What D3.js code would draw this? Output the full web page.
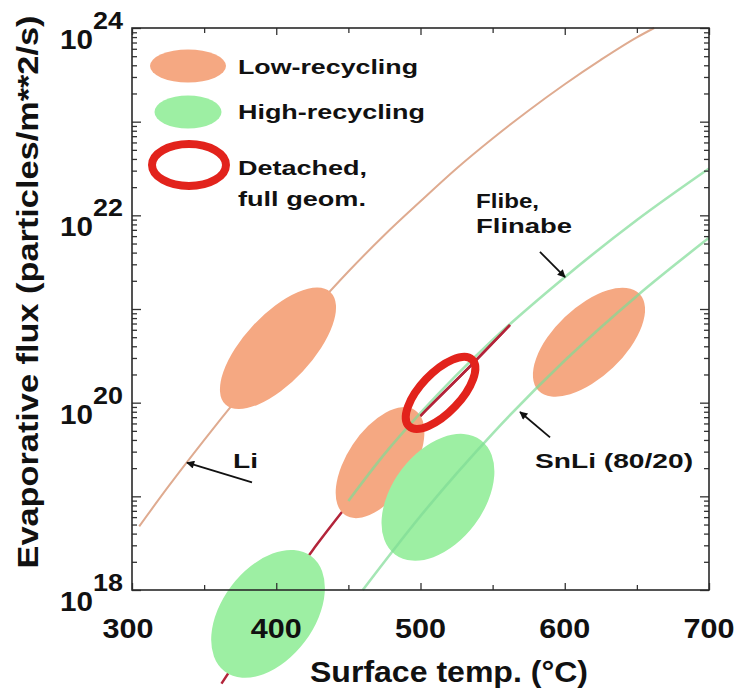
<!DOCTYPE html>
<html><head><meta charset="utf-8">
<script src="https://cdn.jsdelivr.net/npm/d3@7"></script>
<style>body{margin:0;background:#fff}</style>
</head><body><svg id="c" width="738" height="695"></svg>
<script>
// ---- data (temperature in °C, flux as power of ten) ----
const xTicks = [300, 400, 500, 600, 700];
const xMinor = [350, 450, 550, 650];
const yDecades = [18, 20, 22, 24];
const yAllDecades = [18, 19, 20, 21, 22, 23, 24];
const liCurve = [[305,18.68],[325,19.1],[350,19.6],[375,20.08],[400,20.54],[425,20.98],[450,21.4],[475,21.79],[500,22.15],[525,22.5],[550,22.82],[575,23.12],[600,23.4],[625,23.66],[650,23.9],[662,24.0]];
const flibeCurve = [[450,18.95],[475,19.45],[500,19.89],[550,20.67],[600,21.34],[650,21.95],[700,22.5]];
const snliCurve = [[460,18.0],[500,18.79],[550,19.67],[600,20.45],[650,21.14],[700,21.76]];
const detachedCurve = [[362,17.0],[400,17.88],[425,18.42],[450,18.92],[475,19.41],[500,19.86],[530,20.32],[562,20.83]];
// regions: major-axis ends [t1, e1, t2, e2] and minor/major ratio
const lowRecycling = [[364.8,19.98,437.6,21.18,0.44],[447.7,18.80,496.2,19.92,0.52],[581.7,20.13,651.9,21.16,0.5]];
const highRecycling = [[364.3,17.13,424.3,18.36,0.64],[482.3,18.38,541.9,19.60,0.64]];
const detachedRegion = [[492.0,19.75,535.8,20.46,0.435]];
const legendLabels = ["Low-recycling", "High-recycling", "Detached,", "full geom."];
// annotations: text position, arrow from -> to (temperature, exponent)
const annotations = [
  {lines:["Li"], t:370, e:19.30, from:[383.2,19.15], to:[338.1,19.36]},
  {lines:["Flibe,","Flinabe"], t:538.5, e:22.08, from:[582.8,21.61], to:[600.2,21.34]},
  {lines:["SnLi (80/20)"], t:579.4, e:19.30, from:[589.8,19.63], to:[569.0,19.90]}
];

const svg = d3.select("#c");
const FONT = "'Liberation Sans', Arial, Helvetica, sans-serif";
const L = 132, R = 709, T = 28, B = 590;
const x = d3.scaleLinear().domain([300, 700]).range([L, R]);
const y = d3.scaleLog().domain([1e18, 1e24]).range([B, T]);
const P = e => y(Math.pow(10, e));

const ORANGE = "#F5A882", GREEN = "#9DEFA3", RED = "#E2231C";

const line = d3.line().x(d => x(d[0])).y(d => P(d[1])).curve(d3.curveMonotoneX);

svg.append("path").datum(liCurve).attr("d", line)
  .attr("fill","none").attr("stroke","#DFAB90").attr("stroke-width",2);
svg.append("path").datum(detachedCurve).attr("d", line)
  .attr("fill","none").attr("stroke","#B3243A").attr("stroke-width",2.5);

function drawRegion(g, r, fill, stroke, sw) {
  const x1 = x(r[0]), y1 = P(r[1]), x2 = x(r[2]), y2 = P(r[3]);
  const cx = (x1 + x2) / 2, cy = (y1 + y2) / 2;
  const a = Math.hypot(x2 - x1, y2 - y1) / 2;
  const ang = Math.atan2(y2 - y1, x2 - x1) * 180 / Math.PI;
  g.append("ellipse").attr("cx", cx).attr("cy", cy).attr("rx", a).attr("ry", a * r[4])
    .attr("transform", `rotate(${ang},${cx},${cy})`)
    .attr("fill", fill).attr("stroke", stroke || "none").attr("stroke-width", sw || 0);
}
const gReg = svg.append("g");
lowRecycling.forEach(r => drawRegion(gReg, r, ORANGE));
highRecycling.forEach(r => drawRegion(gReg, r, GREEN));

[flibeCurve, snliCurve].forEach(c => {
  svg.append("path").datum(c).attr("d", line)
    .attr("fill","none").attr("stroke","#7FDC96").attr("stroke-width",2.6).attr("stroke-opacity",0.7);
});
svg.append("path").datum(detachedCurve.filter(d => d[0] >= 497)).attr("d", line)
  .attr("fill","none").attr("stroke","#B3243A").attr("stroke-width",2.5);

detachedRegion.forEach(r => drawRegion(svg, r, "none", RED, 8));

// ---- axes ----
const minorY = [];
yAllDecades.slice(0, -1).forEach(d => { for (let k = 2; k <= 9; k++) minorY.push(k * Math.pow(10, d)); });
const majorY = yAllDecades.map(d => Math.pow(10, d));
const axStyle = g => { g.select(".domain").remove(); g.selectAll("line").attr("stroke","#333").attr("stroke-width",1.3); g.selectAll("text").remove(); };

svg.append("g").attr("transform",`translate(0,${B})`).call(d3.axisBottom(x).tickValues(xTicks).tickSize(-7)).call(axStyle);
svg.append("g").attr("transform",`translate(0,${B})`).call(d3.axisBottom(x).tickValues(xMinor).tickSize(-5)).call(axStyle);
svg.append("g").attr("transform",`translate(0,${T})`).call(d3.axisTop(x).tickValues(xTicks).tickSize(-7)).call(axStyle);
svg.append("g").attr("transform",`translate(0,${T})`).call(d3.axisTop(x).tickValues(xMinor).tickSize(-5)).call(axStyle);
svg.append("g").attr("transform",`translate(${L},0)`).call(d3.axisLeft(y).tickValues(majorY).tickSize(-9)).call(axStyle);
svg.append("g").attr("transform",`translate(${L},0)`).call(d3.axisLeft(y).tickValues(minorY).tickSize(-5)).call(axStyle);
svg.append("g").attr("transform",`translate(${R},0)`).call(d3.axisRight(y).tickValues(majorY).tickSize(-9)).call(axStyle);
svg.append("g").attr("transform",`translate(${R},0)`).call(d3.axisRight(y).tickValues(minorY).tickSize(-5)).call(axStyle);

svg.append("rect").attr("x",L).attr("y",T).attr("width",R-L).attr("height",B-T)
  .attr("fill","none").attr("stroke","#2a2a2a").attr("stroke-width",1.6);

function txt(s, px, py, size, len, anchor) {
  return svg.append("text").attr("x",px).attr("y",py).text(s)
    .attr("font-family",FONT).attr("font-weight","bold").attr("font-size",size)
    .attr("fill","#111").attr("text-anchor",anchor || "start")
    .attr("textLength",len).attr("lengthAdjust","spacingAndGlyphs");
}

xTicks.forEach(t => txt(String(t), x(t) - (t === 300 ? 4 : 0), 638, 28, 51, "middle"));
yDecades.forEach(d => {
  const py = P(d);
  txt("10", 93, py + 21, 27, 33, "end");
  txt(String(d), 93, py + 1, 23, 30, "start");
});

txt("Surface temp. (°C)", 449, 682, 29, 278, "middle");
svg.append("text").attr("transform","translate(38,292) rotate(-90)").text("Evaporative flux (particles/m**2/s)")
  .attr("font-family",FONT).attr("font-weight","bold").attr("font-size",29).attr("fill","#111")
  .attr("text-anchor","middle").attr("textLength",553).attr("lengthAdjust","spacingAndGlyphs");

// ---- legend ----
svg.append("ellipse").attr("cx",188).attr("cy",66).attr("rx",38).attr("ry",16.5).attr("fill",ORANGE);
svg.append("ellipse").attr("cx",188).attr("cy",112).attr("rx",33.5).attr("ry",16.5).attr("fill",GREEN);
svg.append("ellipse").attr("cx",189).attr("cy",165).attr("rx",37).attr("ry",21).attr("fill","none").attr("stroke",RED).attr("stroke-width",8);
const legPos = [[74,180],[119,187],[175,129],[206,128]];
legendLabels.forEach((s,i) => txt(s, 238, legPos[i][0], 21, legPos[i][1]));

// ---- annotations ----
const defs = svg.append("defs");
defs.append("marker").attr("id","ah").attr("viewBox","0 0 10 10").attr("refX",9).attr("refY",5)
  .attr("markerWidth",11).attr("markerHeight",8).attr("markerUnits","userSpaceOnUse").attr("orient","auto")
  .append("path").attr("d","M0,0 L10,5 L0,10 Z").attr("fill","#111");
const annLen = [[25],[63,96],[158]];
annotations.forEach((a,i) => {
  a.lines.forEach((s,j) => txt(s, x(a.t), P(a.e) + j * 25, 21, annLen[i][j]));
  svg.append("line").attr("x1",x(a.from[0])).attr("y1",P(a.from[1])).attr("x2",x(a.to[0])).attr("y2",P(a.to[1]))
    .attr("stroke","#111").attr("stroke-width",1.8).attr("marker-end","url(#ah)");
});
</script></body></html>
